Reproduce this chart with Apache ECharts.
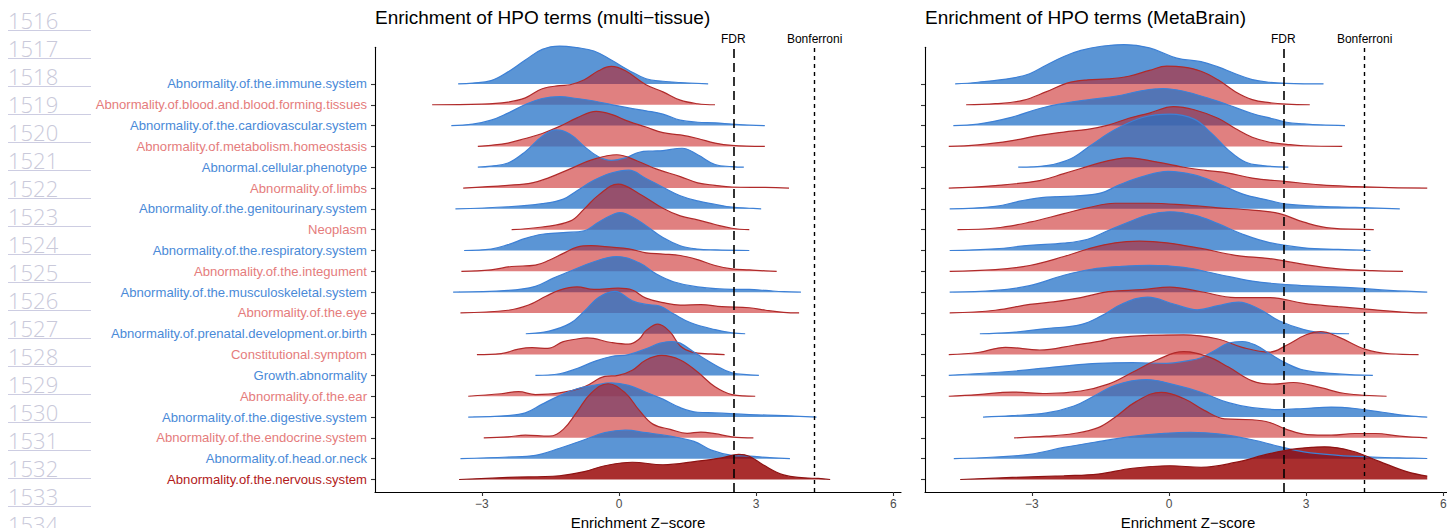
<!DOCTYPE html>
<html><head><meta charset="utf-8">
<script src="https://cdn.jsdelivr.net/npm/echarts@6/dist/echarts.min.js"></script>
<style>html,body{margin:0;padding:0;background:#fff}#c{width:1447px;height:528px}</style>
</head><body><div id="c"></div>
<script>
// ---------- data ----------
const categories = [
  'Abnormality.of.the.immune.system',
  'Abnormality.of.blood.and.blood.forming.tissues',
  'Abnormality.of.the.cardiovascular.system',
  'Abnormality.of.metabolism.homeostasis',
  'Abnormal.cellular.phenotype',
  'Abnormality.of.limbs',
  'Abnormality.of.the.genitourinary.system',
  'Neoplasm',
  'Abnormality.of.the.respiratory.system',
  'Abnormality.of.the.integument',
  'Abnormality.of.the.musculoskeletal.system',
  'Abnormality.of.the.eye',
  'Abnormality.of.prenatal.development.or.birth',
  'Constitutional.symptom',
  'Growth.abnormality',
  'Abnormality.of.the.ear',
  'Abnormality.of.the.digestive.system',
  'Abnormality.of.the.endocrine.system',
  'Abnormality.of.head.or.neck',
  'Abnormality.of.the.nervous.system'
];
const rowGroup = ['b','r','b','r','b','r','b','r','b','r','b','r','b','r','b','r','b','r','b','d'];

// ridge heights: [Z-score, scaled density (in row spacings)]
const multiTissue = [
  [[-3.52,0],[-3.2,0.04],[-2.8,0.16],[-2.43,0.58],[-2.05,1.15],[-1.68,1.66],[-1.3,1.82],[-0.92,1.74],[-0.55,1.58],[-0.17,1.15],[0.21,0.66],[0.59,0.25],[0.96,0.13],[1.34,0.07],[1.95,0]],
  [[-4.09,0],[-3.0,0.03],[-2.43,0.13],[-2.05,0.33],[-1.68,0.77],[-1.3,0.92],[-1.07,0.96],[-0.76,1.2],[-0.45,1.63],[-0.17,1.84],[0.14,1.63],[0.59,0.96],[0.96,0.62],[1.34,0.22],[1.72,0.05],[2.1,0]],
  [[-3.67,0],[-3.2,0.07],[-2.8,0.26],[-2.43,0.6],[-2.05,1.01],[-1.68,1.3],[-1.3,1.39],[-0.92,1.3],[-0.55,1.18],[-0.17,1.01],[0.21,0.85],[0.59,0.71],[0.96,0.55],[1.34,0.26],[1.72,0.16],[2.1,0.13],[2.47,0.07],[2.85,0.02],[3.19,0]],
  [[-3.09,0],[-2.8,0.05],[-2.43,0.16],[-2.05,0.38],[-1.68,0.62],[-1.3,0.96],[-0.92,1.37],[-0.5,1.68],[-0.17,1.54],[0.21,1.2],[0.59,0.93],[0.96,0.66],[1.34,0.55],[1.72,0.38],[2.1,0.16],[2.47,0.05],[3.19,0]],
  [[-3.09,0],[-2.8,0.05],[-2.43,0.2],[-2.05,0.75],[-1.68,1.49],[-1.37,1.79],[-1.07,1.58],[-0.76,1.0],[-0.45,0.5],[-0.17,0.33],[0.14,0.45],[0.44,0.72],[0.74,0.78],[0.96,0.8],[1.38,0.91],[1.72,0.6],[2.1,0.13],[2.47,0.03],[2.73,0]],
  [[-3.41,0],[-2.43,0.13],[-1.9,0.25],[-1.53,0.5],[-1.07,0.92],[-0.6,1.35],[-0.05,1.6],[0.4,1.3],[0.81,0.92],[1.34,0.55],[1.72,0.25],[2.1,0.13],[2.47,0.05],[3.2,0.03],[3.72,0]],
  [[-3.58,0],[-2.43,0.1],[-1.68,0.25],[-1.22,0.47],[-0.92,0.87],[-0.55,1.37],[-0.17,1.72],[0.21,1.86],[0.59,1.46],[0.96,1.04],[1.34,0.63],[1.72,0.38],[2.1,0.22],[2.47,0.08],[2.85,0.03],[3.11,0]],
  [[-2.35,0],[-1.68,0.13],[-1.07,0.41],[-0.76,1.0],[-0.45,1.66],[-0.02,2.19],[0.44,1.73],[0.96,1.03],[1.34,0.66],[1.72,0.47],[2.1,0.25],[2.47,0.07],[2.85,0]],
  [[-3.39,0],[-2.8,0.07],[-2.43,0.28],[-2.05,0.58],[-1.68,0.78],[-1.22,0.86],[-0.76,0.95],[-0.45,1.36],[-0.17,1.69],[0.02,1.82],[0.29,1.61],[0.59,1.19],[0.96,0.62],[1.34,0.23],[1.72,0.07],[2.1,0.03],[2.85,0]],
  [[-3.45,0],[-2.8,0.07],[-2.35,0.23],[-1.83,0.3],[-1.53,0.53],[-1.22,0.86],[-0.92,1.16],[-0.61,1.23],[-0.17,1.16],[0.21,1.08],[0.59,0.89],[0.96,0.83],[1.34,0.76],[1.72,0.56],[2.1,0.28],[2.47,0.12],[2.85,0.07],[3.21,0.02],[3.45,0]],
  [[-3.63,0],[-2.43,0.08],[-1.83,0.28],[-1.45,0.66],[-1.07,1.0],[-0.61,1.41],[-0.05,1.71],[0.44,1.41],[0.81,0.88],[1.19,0.5],[1.72,0.25],[2.47,0.13],[2.85,0.13],[3.21,0.08],[3.6,0.02],[3.98,0]],
  [[-3.47,0],[-2.43,0.13],[-1.98,0.38],[-1.6,0.8],[-1.3,1.1],[-0.92,1.25],[-0.55,1.13],[-0.02,1.19],[0.29,1.1],[0.59,0.71],[0.96,0.5],[1.34,0.38],[1.79,0.4],[2.25,0.3],[2.85,0.25],[3.21,0.13],[3.6,0.03],[3.94,0]],
  [[-2.04,0],[-1.53,0.13],[-1.07,0.5],[-0.76,1.08],[-0.45,1.74],[-0.09,2.04],[0.29,1.58],[0.59,1.41],[0.89,1.33],[1.19,0.96],[1.57,0.53],[2.1,0.2],[2.47,0.05],[2.76,0]],
  [[-3.11,0],[-2.58,0.05],[-2.2,0.26],[-1.9,0.33],[-1.56,0.3],[-1.22,0.62],[-0.92,0.75],[-0.7,0.8],[-0.17,0.58],[0.21,0.5],[0.44,0.75],[0.59,1.15],[0.85,1.46],[1.12,1.08],[1.34,0.41],[1.6,0.12],[2.0,0.03],[2.31,0]],
  [[-1.83,0],[-1.3,0.08],[-0.92,0.33],[-0.55,0.66],[-0.17,0.91],[0.21,1.0],[0.59,1.28],[0.9,1.55],[1.15,1.63],[1.34,1.55],[1.72,1.0],[2.1,0.5],[2.47,0.12],[2.85,0.03],[3.06,0]],
  [[-3.3,0],[-2.58,0.12],[-2.2,0.22],[-1.83,0.08],[-1.3,0.16],[-0.76,0.45],[-0.31,0.95],[-0.02,1.0],[0.29,1.25],[0.59,1.74],[0.93,1.96],[1.34,1.74],[1.72,1.16],[2.1,0.45],[2.47,0.08],[2.98,0]],
  [[-3.3,0],[-2.43,0.07],[-2.05,0.2],[-1.68,0.62],[-1.3,1.03],[-0.92,1.36],[-0.55,1.52],[-0.17,1.64],[0.21,1.52],[0.59,1.19],[0.96,0.86],[1.34,0.45],[1.72,0.23],[2.1,0.2],[2.85,0.12],[3.6,0.07],[4.32,0]],
  [[-2.96,0],[-2.43,0.05],[-2.05,0.13],[-1.53,0.08],[-1.22,0.41],[-0.92,1.25],[-0.61,2.15],[-0.24,2.6],[0.14,2.15],[0.44,1.33],[0.74,0.66],[1.12,0.41],[1.49,0.22],[1.79,0.28],[2.1,0.2],[2.47,0.05],[2.94,0]],
  [[-3.47,0],[-2.43,0.08],[-1.83,0.16],[-1.3,0.5],[-0.76,0.91],[-0.31,1.25],[0.14,1.37],[0.59,1.25],[1.12,1.08],[1.64,0.83],[2.02,0.41],[2.47,0.16],[2.85,0.12],[3.3,0.05],[3.74,0]],
  [[-3.5,0],[-2.43,0.1],[-1.3,0.18],[-0.76,0.38],[-0.31,0.66],[0.29,0.83],[0.96,0.71],[1.72,0.88],[2.25,1.04],[2.62,1.21],[2.85,1.12],[3.15,0.71],[3.6,0.22],[4.05,0.08],[4.36,0.05],[4.62,0]]
];

const metaBrain = [
  [[-4.68,0],[-4.18,0.08],[-3.43,0.28],[-3.05,0.49],[-2.68,0.91],[-2.3,1.32],[-1.93,1.61],[-1.48,1.81],[-0.99,1.89],[-0.43,1.73],[0.17,1.24],[0.7,1.07],[1.07,0.82],[1.45,0.49],[1.82,0.21],[2.2,0.08],[2.57,0.03],[3.38,0]],
  [[-4.44,0],[-3.8,0.05],[-3.2,0.21],[-2.68,0.63],[-2.23,1.04],[-1.78,1.2],[-1.33,1.24],[-0.88,1.37],[-0.43,1.65],[-0.05,1.86],[0.32,1.81],[0.7,1.61],[1.07,1.2],[1.45,0.63],[1.82,0.25],[2.2,0.1],[2.57,0.03],[3.08,0]],
  [[-4.72,0],[-4.18,0.07],[-3.43,0.41],[-2.83,0.82],[-2.3,1.07],[-1.78,1.24],[-1.18,1.4],[-0.58,1.68],[-0.13,1.78],[0.32,1.65],[0.85,1.32],[1.3,0.99],[1.82,0.58],[2.27,0.33],[2.57,0.16],[2.95,0.08],[3.32,0.03],[3.85,0]],
  [[-4.82,0],[-4.18,0.07],[-3.43,0.28],[-2.83,0.53],[-2.3,0.69],[-1.78,0.82],[-1.33,1.02],[-0.88,1.35],[-0.43,1.6],[0.1,1.91],[0.55,1.76],[1.07,1.35],[1.45,0.86],[1.82,0.44],[2.2,0.2],[2.57,0.1],[2.95,0.03],[3.79,0]],
  [[-3.3,0],[-2.68,0.08],[-2.15,0.41],[-1.7,1.07],[-1.18,1.81],[-0.58,2.39],[0.02,2.55],[0.55,2.31],[0.92,1.65],[1.3,0.82],[1.67,0.25],[2.05,0.08],[2.61,0]],
  [[-4.82,0],[-3.8,0.12],[-2.83,0.36],[-2.3,0.69],[-1.93,0.94],[-1.5,1.22],[-1.18,1.38],[-0.88,1.45],[-0.43,1.32],[0.32,1.0],[0.8,0.85],[1.3,0.72],[1.82,0.48],[2.57,0.31],[3.32,0.15],[4.07,0.07],[4.82,0.02],[5.65,0]],
  [[-4.8,0],[-3.8,0.12],[-3.2,0.4],[-2.68,0.56],[-2.08,0.61],[-1.48,0.77],[-1.1,1.14],[-0.58,1.55],[-0.02,1.8],[0.55,1.63],[1.07,1.22],[1.6,0.72],[2.2,0.4],[2.57,0.23],[3.32,0.12],[4.07,0.07],[5.05,0]],
  [[-4.63,0],[-3.8,0.08],[-3.05,0.36],[-2.3,0.77],[-1.78,1.05],[-1.18,1.27],[-0.43,1.27],[0.32,1.19],[1.07,1.05],[1.82,0.94],[2.42,0.77],[2.95,0.36],[3.55,0.07],[4.48,0]],
  [[-4.8,0],[-3.8,0.08],[-3.05,0.25],[-2.3,0.35],[-1.78,0.54],[-1.33,0.96],[-0.88,1.37],[-0.43,1.73],[0.02,1.86],[0.55,1.7],[1.07,1.29],[1.6,0.79],[2.2,0.38],[2.95,0.13],[3.7,0.05],[4.41,0]],
  [[-4.8,0],[-3.8,0.08],[-3.05,0.28],[-2.3,0.71],[-1.78,1.07],[-1.18,1.37],[-0.65,1.45],[-0.05,1.37],[0.7,1.1],[1.45,0.77],[2.2,0.61],[2.95,0.33],[3.7,0.12],[4.45,0.03],[5.12,0]],
  [[-4.8,0],[-3.8,0.08],[-3.05,0.31],[-2.3,0.81],[-1.7,1.1],[-1.03,1.24],[-0.43,1.29],[0.32,1.19],[1.07,0.86],[1.82,0.53],[2.57,0.36],[3.32,0.28],[4.07,0.2],[4.82,0.08],[5.65,0]],
  [[-4.8,0],[-3.8,0.13],[-3.05,0.41],[-2.53,0.53],[-1.93,0.74],[-1.33,1.02],[-0.58,1.12],[0.02,1.24],[0.7,1.02],[1.45,0.74],[2.2,0.74],[2.95,0.46],[3.7,0.3],[4.45,0.16],[5.2,0.03],[5.65,0]],
  [[-4.14,0],[-3.43,0.07],[-2.68,0.25],[-1.93,0.44],[-1.48,0.86],[-1.03,1.43],[-0.47,1.76],[0.1,1.43],[0.62,1.15],[1.07,1.35],[1.52,1.52],[1.97,1.19],[2.42,0.61],[2.95,0.2],[3.47,0.03],[3.94,0]],
  [[-4.82,0],[-4.18,0.1],[-3.58,0.35],[-2.83,0.22],[-2.08,0.45],[-1.5,0.65],[-1.18,0.8],[-0.43,0.92],[0.32,0.95],[1.07,0.75],[1.6,0.35],[2.2,0.12],[2.57,0.45],[3.0,0.95],[3.32,1.1],[3.7,0.85],[4.3,0.25],[4.82,0.04],[5.46,0]],
  [[-4.82,0],[-3.43,0.2],[-2.3,0.45],[-1.55,0.58],[-0.8,0.61],[-0.05,0.58],[0.4,0.7],[0.7,0.85],[1.0,1.2],[1.3,1.55],[1.6,1.63],[1.9,1.45],[2.2,1.05],[2.57,0.58],[2.95,0.25],[3.7,0.07],[4.46,0]],
  [[-4.82,0],[-4.18,0.08],[-3.43,0.2],[-2.68,0.13],[-1.93,0.25],[-1.33,0.58],[-0.8,1.15],[-0.28,1.73],[0.32,2.14],[0.85,1.9],[1.3,1.4],[1.82,0.74],[2.27,0.58],[2.72,0.66],[3.32,0.41],[3.85,0.13],[4.76,0]],
  [[-4.07,0],[-3.43,0.07],[-2.68,0.2],[-2.08,0.53],[-1.63,1.02],[-1.18,1.52],[-0.5,1.8],[0.17,1.52],[0.7,1.19],[1.3,0.69],[1.82,0.45],[2.42,0.36],[2.95,0.41],[3.55,0.48],[4.07,0.41],[4.67,0.23],[5.2,0.07],[5.65,0]],
  [[-3.39,0],[-2.68,0.08],[-2.08,0.21],[-1.55,0.49],[-1.18,0.99],[-0.73,1.73],[-0.17,2.19],[0.32,1.89],[0.77,1.32],[1.22,0.91],[1.82,0.87],[2.2,0.74],[2.57,0.41],[3.02,0.16],[3.55,0.13],[4.07,0.21],[4.52,0.21],[5.05,0.08],[5.65,0]],
  [[-4.71,0],[-3.8,0.08],[-3.05,0.21],[-2.3,0.54],[-1.55,0.82],[-0.8,1.07],[-0.2,1.2],[0.47,1.27],[1.07,1.19],[1.82,0.91],[2.42,0.58],[2.95,0.33],[3.7,0.16],[4.45,0.08],[5.2,0.03],[5.65,0.01]],
  [[-4.57,0],[-3.43,0.1],[-2.3,0.18],[-1.55,0.26],[-0.8,0.54],[0.02,0.66],[0.7,0.59],[1.45,0.82],[2.2,1.24],[2.8,1.48],[3.4,1.57],[4.0,1.37],[4.6,0.87],[5.2,0.38],[5.65,0.16]]
];

const panelTitles = ['Enrichment of HPO terms (multi\u2212tissue)', 'Enrichment of HPO terms (MetaBrain)'];
const xTicks = [-3, 0, 3, 6];
const xAxisTitle = 'Enrichment Z\u2212score';
const thresholdNames = ['FDR', 'Bonferroni'];
const thresholdValues = [2.5, 4.28];
const gutterNumbers = [1516,1517,1518,1519,1520,1521,1522,1523,1524,1525,1526,1527,1528,1529,1530,1531,1532,1533,1534];

// ---------- styling ----------
const FONT = '"Liberation Sans", Arial, Helvetica, sans-serif';
const fillColor = { b: 'rgba(36,114,199,0.75)', r: 'rgba(198,24,24,0.55)', d: 'rgba(150,0,0,0.82)' };
const lineColor = { b: '#3d80d6', r: '#b02a2a', d: '#8e1212' };
const labelColor = { b: '#4a8ad8', r: '#e57c7c', d: '#b21a1a' };
const N = categories.length;
const rowValues = categories.map((c, i) => N - 1 - i);

const chart = echarts.init(document.getElementById('c'), null, { renderer: 'svg' });

const grids = [
  { left: 375, top: 47.3, width: 526, height: 444.7, outerBoundsMode: 'none', containLabel: false },
  { left: 925, top: 47.3, width: 526, height: 444.7, outerBoundsMode: 'none', containLabel: false }
];

function makeX(idx) {
  return {
    type: 'value', gridIndex: idx, min: -5.34, max: 6.17,
    splitLine: { show: false },
    axisLine: { show: true, onZero: false, lineStyle: { color: '#000', width: 1.1 } },
    axisTick: { show: true, customValues: xTicks, length: 4, lineStyle: { color: '#333', width: 1.1 } },
    axisLabel: { show: true, customValues: xTicks, margin: 6, color: '#4d4d4d', fontSize: 12, fontFamily: FONT,
      formatter: v => (v < 0 ? '\u2212' + Math.abs(v) : String(v)) },
    name: xAxisTitle, nameLocation: 'middle', nameGap: 20,
    nameTextStyle: { color: '#000', fontSize: 15, fontFamily: FONT, lineHeight: 12 }
  };
}
function makeY(idx, showLabels) {
  const rich = {};
  Object.keys(labelColor).forEach(k => { rich[k] = { color: labelColor[k], fontSize: 13.1, fontFamily: FONT }; });
  return {
    type: 'value', gridIndex: idx, min: -0.6, max: 20.76,
    splitLine: { show: false },
    axisLine: { show: true, onZero: false, lineStyle: { color: '#000', width: 1.1 } },
    axisTick: { show: true, customValues: rowValues, length: 4, lineStyle: { color: '#333', width: 1.1 } },
    axisLabel: { show: showLabels, customValues: rowValues, margin: 8, fontFamily: FONT, rich: rich,
      formatter: v => { const i = N - 1 - Math.round(v); return '{' + rowGroup[i] + '|' + categories[i] + '}'; } }
  };
}

function ridgeSeries(dataRows, idx) {
  return dataRows.map((pts, i) => {
    const base = rowValues[i];
    const g = rowGroup[i];
    const s = {
      type: 'line', xAxisIndex: idx, yAxisIndex: idx,
      data: pts.map(p => [p[0], base + p[1]]),
      smooth: 0.4, showSymbol: false, symbol: 'none', clip: false, silent: true, animation: false,
      lineStyle: { color: lineColor[g], width: 1.2 },
      areaStyle: { color: fillColor[g], opacity: 1, origin: base },
      z: 2
    };
    if (i === dataRows.length - 1) {
      s.markLine = {
        silent: true, symbol: ['none', 'none'], animation: false,
        label: { show: true, position: 'end', color: '#000', fontSize: 12, fontFamily: FONT, distance: 2 },
        data: thresholdNames.map((nm, k) => ({
          xAxis: thresholdValues[k],
          label: { formatter: nm },
          lineStyle: { color: '#000', width: k === 0 ? 1.6 : 1.4, type: k === 0 ? [9, 5] : [4, 4] }
        }))
      };
    }
    return s;
  });
}

const graphic = [];
gutterNumbers.forEach((n, k) => {
  graphic.push({ type: 'text', x: 8, y: 20 + 28 * k, silent: true,
    style: { text: String(n), fill: '#c9c9da', fontSize: 22, lineHeight: 22, fontWeight: 300, fontFamily: '"Open Sans", "Noto Sans", sans-serif', verticalAlign: 'middle' } });
  graphic.push({ type: 'line', silent: true, shape: { x1: 8, y1: 30.5 + 28 * k, x2: 91, y2: 30.5 + 28 * k },
    style: { stroke: '#cdcde2', lineWidth: 1 } });
});

chart.setOption({
  animation: false,
  backgroundColor: '#fff',
  title: [
    { text: panelTitles[0], left: 370, top: 3, textStyle: { color: '#000', fontSize: 19, fontWeight: 'normal', fontFamily: FONT } },
    { text: panelTitles[1], left: 920, top: 3, textStyle: { color: '#000', fontSize: 19, fontWeight: 'normal', fontFamily: FONT } }
  ],
  grid: grids,
  xAxis: [makeX(0), makeX(1)],
  yAxis: [makeY(0, true), makeY(1, false)],
  series: ridgeSeries(multiTissue, 0).concat(ridgeSeries(metaBrain, 1)),
  graphic: graphic
});
</script>
</body></html>
